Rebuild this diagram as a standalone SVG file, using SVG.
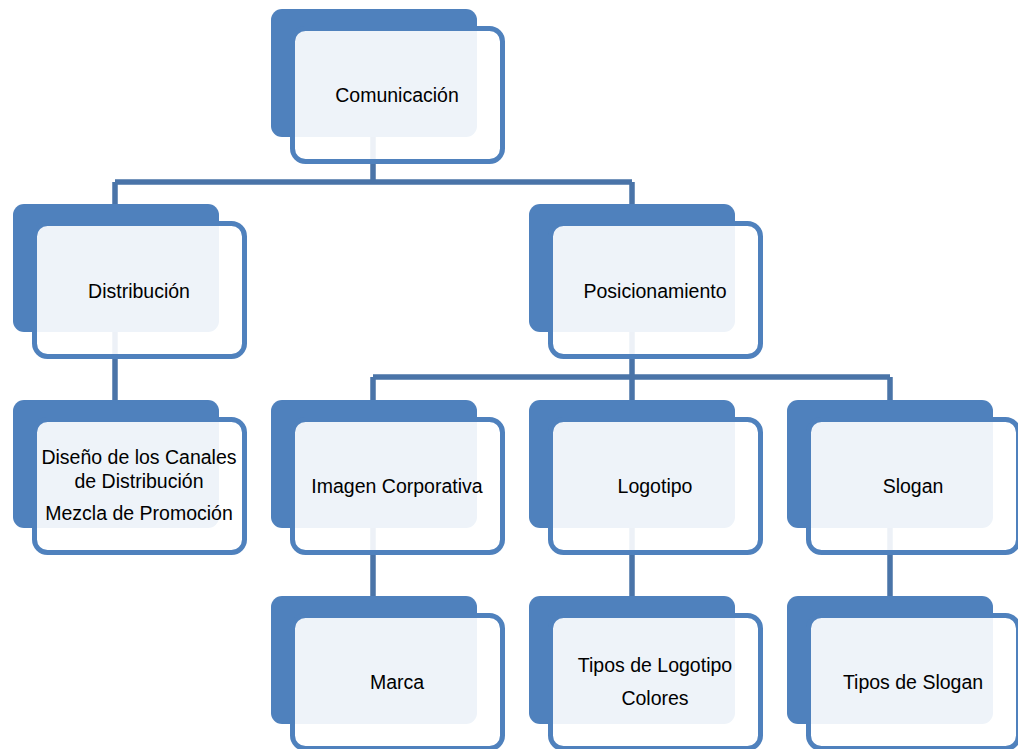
<svg xmlns="http://www.w3.org/2000/svg" width="1018" height="749" viewBox="0 0 1018 749">
  <style>
    .back { fill: #4F81BD; }
    .front { fill: #FFFFFF; fill-opacity: 0.9; stroke: #4F81BD; stroke-width: 5; }
    .link { fill: none; stroke: #4A74A8; stroke-width: 5.5; }
    text { font-family: "Liberation Sans", Arial, sans-serif; font-size: 19.5px; fill: #000000; text-anchor: middle; dominant-baseline: central; }
  </style>
  <defs>
    <!-- one node: dark back plate plus translucent framed front card -->
    <g id="card">
      <rect class="back" x="0" y="0" width="206" height="128" rx="11"/>
      <rect class="front" x="21.5" y="19.5" width="210" height="133" rx="13"/>
    </g>
  </defs>
  <rect width="1018" height="749" fill="#FFFFFF"/>

  <g id="connectors">
    <path class="link" d="M373,137 V182 M115,182 H632 M115,182 V204 M632,182 V204"/>
    <path class="link" d="M115,331 V400"/>
    <path class="link" d="M632,331 V377 M373,377 H890 M373,377 V400 M632,377 V400 M890,377 V400"/>
    <path class="link" d="M373,527 V596 M632,527 V596 M890,527 V596"/>
  </g>

  <g id="comunicacion">
    <use href="#card" x="271" y="9"/>
    <text x="397" y="95">Comunicación</text>
  </g>
  <g id="distribucion">
    <use href="#card" x="13" y="204"/>
    <text x="139" y="291">Distribución</text>
  </g>
  <g id="posicionamiento">
    <use href="#card" x="529" y="204"/>
    <text x="655" y="291">Posicionamiento</text>
  </g>
  <g id="canales">
    <use href="#card" x="13" y="400"/>
    <text x="139" y="457">Diseño de los Canales</text>
    <text x="139" y="481">de Distribución</text>
    <text x="139" y="513">Mezcla de Promoción</text>
  </g>
  <g id="imagen">
    <use href="#card" x="271" y="400"/>
    <text x="397" y="486">Imagen Corporativa</text>
  </g>
  <g id="logotipo">
    <use href="#card" x="529" y="400"/>
    <text x="655" y="486">Logotipo</text>
  </g>
  <g id="slogan">
    <use href="#card" x="787" y="400"/>
    <text x="913" y="486">Slogan</text>
  </g>
  <g id="marca">
    <use href="#card" x="271" y="596"/>
    <text x="397" y="682">Marca</text>
  </g>
  <g id="tipos-logotipo">
    <use href="#card" x="529" y="596"/>
    <text x="655" y="665">Tipos de Logotipo</text>
    <text x="655" y="698">Colores</text>
  </g>
  <g id="tipos-slogan">
    <use href="#card" x="787" y="596"/>
    <text x="913" y="682">Tipos de Slogan</text>
  </g>
</svg>
